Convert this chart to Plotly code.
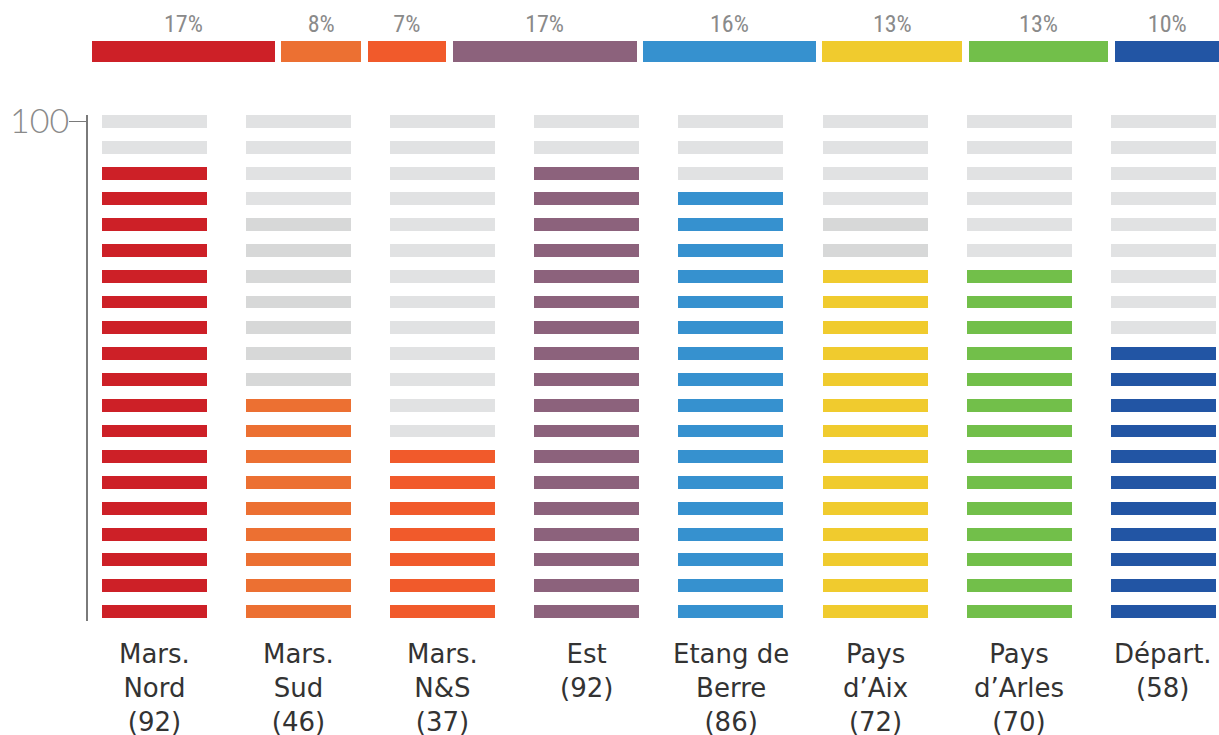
import math
import plotly.graph_objects as go

# ---------------- data ----------------
categories = ["Mars.<br>Nord", "Mars.<br>Sud", "Mars.<br>N&S", "Est",
              "Etang de<br>Berre", "Pays<br>d’Aix", "Pays<br>d’Arles", "Départ."]
values = [92, 46, 37, 92, 86, 72, 70, 58]          # score per zone (0-100)
dark_rows = [0, 7, 0, 0, 0, 2, 0, 0]               # extra darker-grey segments above filled part
share_labels = ["17%", "8%", "7%", "17%", "16%", "13%", "13%", "10%"]
shares = [16.9, 7.7, 7.6, 17.0, 16.0, 13.1, 13.0, 10.0]  # share of total (top bar widths)
colors = ["#CD2027", "#EC7032", "#F15A2B", "#8C627C",
          "#3691CF", "#F0CB2E", "#72BF4A", "#2255A4"]

STEP = 5            # each segment = 5 points
N_SEG = 100 // STEP
SEG_H = 2.5
LIGHT = "#E1E2E3"
DARK = "#D7D8D8"

W, H = 1219, 735
L, R, T = 88, 0, 0
plot_bottom = 621
B = H - plot_bottom
paper_h = H - T - B

# ---------------- segmented columns ----------------
xs, bases, ys, cols = [], [], [], []
for cat, v, d, c in zip(categories, values, dark_rows, colors):
    filled = math.floor(v / STEP)
    for k in range(1, N_SEG + 1):
        xs.append(cat)
        bases.append(k * STEP - SEG_H / 2)
        ys.append(SEG_H)
        if k <= filled:
            cols.append(c)
        elif k <= filled + d:
            cols.append(DARK)
        else:
            cols.append(LIGHT)

px_per_slot = 144.1
c0 = 154.5
fig = go.Figure()
fig.add_trace(go.Bar(x=xs, y=ys, base=bases, marker=dict(color=cols, line=dict(width=0)),
                     width=105 / px_per_slot, hoverinfo="skip", showlegend=False,
                     xaxis="x", yaxis="y"))

# ---------------- top share bar ----------------
GAP = 0.58
starts = []
acc = 0.0
for s in shares:
    starts.append(acc)
    acc += s
fig.add_trace(go.Bar(orientation="h", y=[18.5] * len(shares),
                     x=[s - GAP for s in shares], base=starts,
                     marker=dict(color=colors, line=dict(width=0)), width=21,
                     hoverinfo="skip", showlegend=False, xaxis="x2", yaxis="y2"))
fig.add_trace(go.Scatter(x=[b + (s - GAP) / 2 for b, s in zip(starts, shares)],
                         y=[44] * len(shares), mode="text", text=share_labels,
                         textposition="middle center",
                         textfont=dict(family="Liberation Sans Narrow, Roboto Condensed, Liberation Sans",
                                       size=24, color="#8A8A8A"),
                         hoverinfo="skip", showlegend=False, xaxis="x2", yaxis="y2"))

# ---------------- bottom labels ----------------
label_top = 637
for cat, v in zip(categories, values):
    fig.add_annotation(x=cat, xref="x", y=-(label_top - paper_h) / paper_h, yref="paper",
                       yanchor="top", xanchor="center", showarrow=False,
                       text=f"{cat}<br>({v})",
                       font=dict(family="DejaVu Sans", size=26, color="#333333"))

x_min = -(c0 - L) / px_per_slot
x_max = (W - R - c0) / px_per_slot

main_top_px = 115
row100_px = 121.5
ppu = 25.79 / STEP
y_top = 100 + (row100_px - main_top_px) / ppu
y_bot = 100 - (paper_h - row100_px) / ppu

top_ppu = 11.2
tx_min = -(92 - L) / top_ppu
tx_max = tx_min + (W - L - R) / top_ppu
top_h = 70

fig.update_layout(
    template="none",
    width=W, height=H,
    margin=dict(l=L, r=R, t=T, b=B, autoexpand=False),
    plot_bgcolor="white", paper_bgcolor="white",
    barmode="overlay", bargap=0, hovermode=False,
    xaxis=dict(type="category", range=[x_min, x_max], showticklabels=False,
               showgrid=False, zeroline=False, showline=False, ticks="",
               automargin=False),
    yaxis=dict(domain=[0, (paper_h - main_top_px) / paper_h], range=[y_bot, y_top],
               tickvals=[100], ticktext=["100"], ticks="outside", ticklen=17,
               tickwidth=1.5, tickcolor="#7A7A7A", ticklabelstandoff=-7,
               showline=True, linecolor="#7A7A7A", linewidth=2,
               showgrid=False, zeroline=False, automargin=False,
               tickfont=dict(family="Lato", size=34, color="#8A8A8A", weight=300)),
    xaxis2=dict(range=[tx_min, tx_max], anchor="y2", visible=False, automargin=False),
    yaxis2=dict(domain=[(paper_h - top_h) / paper_h, 1], range=[0, top_h],
                anchor="x2", visible=False, automargin=False),
)

fig.write_html("out.html", config={"displayModeBar": False, "staticPlot": True},
               post_script="document.body.style.margin='0';document.body.style.overflow='hidden';")
